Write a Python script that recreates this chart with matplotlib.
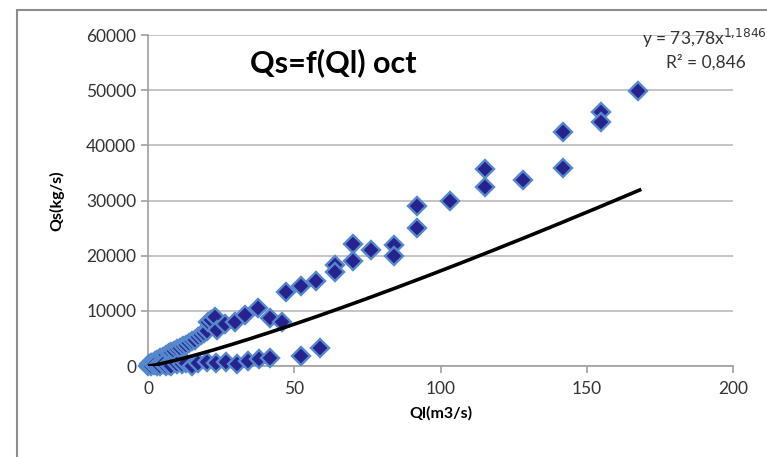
import numpy as np
import matplotlib.pyplot as plt
from matplotlib.patches import Rectangle

# Qs vs Ql, october
ql_upper = [0, 0.5, 1, 1.5, 2.5, 3, 4, 5, 6, 7, 8, 9, 10, 11, 12, 13, 14, 15, 16, 17,
            18, 19, 20, 20.5, 21.5, 22.9, 23.5, 26.3, 29.7, 33.2, 37.7, 41.7, 45.8,
            47, 52.2, 57.5, 63.8, 63.8, 70, 70, 76.3, 84.2, 84.2, 92, 92, 103.3,
            115, 115, 128, 141.7, 141.7, 154.7, 154.7, 167.5]
qs_upper = [100, 300, 500, 600, 900, 1100, 1400, 1700, 2000, 2300, 2600, 2800, 3100,
            3300, 3600, 3900, 4200, 4500, 4800, 5200, 5600, 6000, 6300, 7900, 8300,
            8900, 6600, 7700, 8000, 9300, 10600, 8700, 8000, 13500, 14600, 15400,
            18300, 17100, 22100, 19000, 21100, 22000, 20000, 29000, 25100, 29900,
            35700, 32500, 33800, 42500, 35900, 46100, 44200, 49900]
ql_lower = [1, 2, 3, 4, 5, 6, 7, 8, 10, 11.7, 13, 15, 17, 20, 23.3, 26.7, 30.5, 34.2,
            38, 41.7, 52.2, 58.7]
qs_lower = [0, 200, 100, 0, 300, 100, 200, 0, 400, 300, 600, 0, 500, 700, 600, 700,
            300, 900, 1200, 1500, 1800, 3200]

# power trendline shown on the chart
coef_a = 73.78
coef_b = 1.1846
ql_fit = np.linspace(0.5, 168, 200)
qs_fit = coef_a * ql_fit ** coef_b

plt.rcParams['font.family'] = ['Lato', 'DejaVu Sans']

fig = plt.figure(figsize=(7.67, 4.57), dpi=100)
ax = fig.add_axes([0.193, 0.199, 0.763, 0.724])

ax.plot(ql_upper + ql_lower, qs_upper + qs_lower, linestyle='none', marker='D',
        markersize=9.5, markerfacecolor='#27238e', markeredgecolor='#5688cc',
        markeredgewidth=1.7, zorder=3, clip_on=False)
ax.plot(ql_fit, qs_fit, color='black', linewidth=2.6, zorder=4)

ax.set_xlim(0, 200)
ax.set_ylim(0, 60000)
ax.set_xticks([0, 50, 100, 150, 200])
ax.set_yticks(range(0, 60001, 10000))
ax.yaxis.grid(True, color='#bfbfbf', linewidth=1.3)
ax.set_axisbelow(True)
for side in ['top', 'right']:
    ax.spines[side].set_visible(False)
for side in ['left', 'bottom']:
    ax.spines[side].set_color('#a0a0a0')
    ax.spines[side].set_linewidth(1.2)
ax.tick_params(axis='both', colors='#a0a0a0', labelcolor='#333333',
               labelsize=12.5, length=5, width=1.2)
ax.tick_params(axis='x', pad=6)

ax.set_xlabel('Ql(m3/s)', fontsize=11.5, fontweight='bold', labelpad=6)
ax.set_ylabel('Qs(kg/s)', fontsize=11.5, fontweight='bold', labelpad=16)

ax.text(0.175, 0.96, 'Qs=f(Ql) oct', transform=ax.transAxes, fontsize=22,
        fontweight='bold', va='top', ha='left')
ax.text(0.95, 0.99, 'y = 73,78x$^{1{,}1846}$', transform=ax.transAxes, fontsize=12.5,
        ha='center', va='center', color='#333333')
ax.text(0.953, 0.918, 'R² = 0,846', transform=ax.transAxes, fontsize=12.5,
        ha='center', va='center', color='#333333')

# outer chart frame (only top and left edges visible in the crop)
fig.patches.append(Rectangle((17 / 767, -0.5), 2, 1.5 - 10 / 457, transform=fig.transFigure,
                             fill=False, edgecolor='#8c8c8c', linewidth=1.5))

fig.savefig('out.png', dpi=100)
